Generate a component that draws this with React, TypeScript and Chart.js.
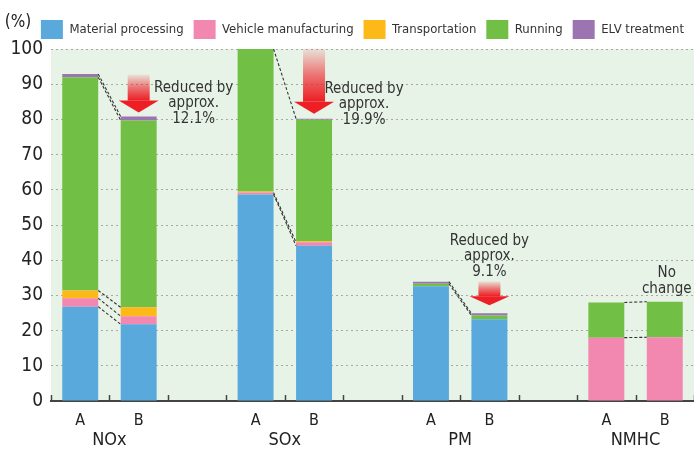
import React, { useEffect, useRef } from "react";
import { Chart, registerables } from "chart.js";

Chart.register(...registerables);

// ---------- data ----------
const slotLabels = ["A", "B", "", "A", "B", "", "A", "B", "", "A", "B"];
const groupLabels = ["NOx", "SOx", "PM", "NMHC"];
const groupSlots = [[0, 1], [3, 4], [6, 7], [9, 10]];
const seriesNames = ["Material processing", "Vehicle manufacturing", "Transportation", "Running", "ELV treatment"];

const materialProcessing = [26.8, 21.8, null, 58.7, 44.1, null, 32.6, 23.2, null, 0, 0];
const vehicleManufacturing = [2.4, 2.3, null, 0.5, 1.0, null, 0, 0, null, 18.0, 18.1];
const transportation = [2.2, 2.5, null, 0.3, 0.3, null, 0, 0, null, 0, 0];
const running = [60.6, 53.1, null, 40.5, 34.5, null, 0.7, 1.1, null, 10.0, 10.1];
const elvTreatment = [0.9, 1.1, null, 0, 0.3, null, 0.6, 0.6, null, 0, 0];

const yMin = 0;
const yMax = 100;
const yStep = 10;
const unitLabel = "(%)";

// connectors: pair of slots and which dataset stack-tops are joined
const connectorPairs = [[0, 1], [3, 4], [6, 7], [9, 10]];
const connectorSeries = [[0, 1, 2, 3, 4], [0, 1, 4], [3, 4], [1, 3]];

// notes
const noteSlots = [1, 4, 7, 10];
const noteTexts = [
  ["Reduced by", "approx.", "12.1%"],
  ["Reduced by", "approx.", "19.9%"],
  ["Reduced by", "approx.", "9.1%"],
  ["No", "change"],
];
const noteValues = [89, 88.7, 45.5, 36.2];
const arrowSlots = [1, 4, 7];

// ---------- styles ----------
const colors = ["#5aa9dd", "#f288b0", "#fcb918", "#72bf45", "#9c74b2"];
const NARROW = "'Liberation Sans Narrow', 'DejaVu Sans Condensed', sans-serif";
const COND = "'DejaVu Sans Condensed', 'Liberation Sans Narrow', sans-serif";
const noteDx = [55, 50, 0, 2];
const arrowGap = [4, 5, 8];
const arrowLen = [38, 65, 24];
const arrowHead = [12, 12, 9];

const bgPlugin = {
  id: "bgPlugin",
  beforeDraw(chart: any) {
    const { ctx, chartArea: a } = chart;
    ctx.save();
    ctx.fillStyle = "#e8f3e7";
    ctx.fillRect(a.left, a.top, a.right - a.left, a.bottom - a.top);
    ctx.restore();
  },
};

const overlayPlugin = {
  id: "overlayPlugin",
  afterDatasetsDraw(chart: any) {
    const { ctx } = chart;
    ctx.save();
    ctx.strokeStyle = "#333";
    ctx.lineWidth = 1.1;
    ctx.setLineDash([3, 2]);
    connectorPairs.forEach((pair, i) => {
      connectorSeries[i].forEach((ds) => {
        const meta = chart.getDatasetMeta(ds);
        const ea = meta.data[pair[0]];
        const eb = meta.data[pair[1]];
        if (!ea || !eb) return;
        ctx.beginPath();
        ctx.moveTo(ea.x + ea.width / 2, ea.y);
        ctx.lineTo(eb.x - eb.width / 2, eb.y);
        ctx.stroke();
      });
    });
    ctx.restore();
  },
  afterDraw(chart: any) {
    const { ctx, chartArea: a } = chart;
    const xs = chart.scales.x;
    const ys = chart.scales.y;
    ctx.save();
    // tick marks pointing up from axis
    const n = slotLabels.length;
    const step = (xs.right - xs.left) / n;
    ctx.strokeStyle = "#444";
    ctx.lineWidth = 1.5;
    for (let k = 0; k <= n; k++) {
      const x = Math.round(xs.left + k * step) + 0.5;
      ctx.beginPath();
      ctx.moveTo(x, a.bottom);
      ctx.lineTo(x, a.bottom - 6);
      ctx.stroke();
    }
    // group labels
    ctx.fillStyle = "#222";
    ctx.font = `18px ${COND}`;
    ctx.textAlign = "center";
    ctx.textBaseline = "middle";
    groupLabels.forEach((g, i) => {
      const x = (xs.getPixelForValue(groupSlots[i][0]) + xs.getPixelForValue(groupSlots[i][1])) / 2;
      ctx.fillText(g, x, a.bottom + 39);
    });
    // unit label
    ctx.font = `17px ${COND}`;
    ctx.fillText(unitLabel, 18, 23);
    // arrows
    const lastMeta = chart.getDatasetMeta(seriesNames.length - 1);
    arrowSlots.forEach((s, i) => {
      const el = lastMeta.data[s];
      const cx = el.x;
      const tip = el.y - arrowGap[i];
      const top = tip - arrowLen[i];
      const base = tip - arrowHead[i];
      const g = ctx.createLinearGradient(0, top, 0, base);
      g.addColorStop(0, "rgba(237,30,36,0.08)");
      g.addColorStop(0.5, "rgba(237,30,36,0.6)");
      g.addColorStop(1, "rgba(237,30,36,1)");
      ctx.fillStyle = g;
      ctx.fillRect(cx - 11, top, 22, base - top);
      ctx.fillStyle = "#ed1e24";
      ctx.beginPath();
      ctx.moveTo(cx - 20, base);
      ctx.lineTo(cx + 20, base);
      ctx.lineTo(cx, tip);
      ctx.closePath();
      ctx.fill();
    });
    // notes
    ctx.fillStyle = "#333";
    ctx.font = `15px ${NARROW}`;
    noteSlots.forEach((s, i) => {
      const x = xs.getPixelForValue(s) + noteDx[i];
      const y0 = ys.getPixelForValue(noteValues[i]);
      noteTexts[i].forEach((line, j) => {
        ctx.fillText(line, x, y0 + j * 15.5);
      });
    });
    ctx.restore();
  },
};

export default function App() {
  const ref = useRef<HTMLCanvasElement>(null);
  useEffect(() => {
    document.body.style.margin = "0";
    const series = [materialProcessing, vehicleManufacturing, transportation, running, elvTreatment];
    const chart = new Chart(ref.current as HTMLCanvasElement, {
      type: "bar",
      data: {
        labels: slotLabels,
        datasets: series.map((d, i) => ({
          label: seriesNames[i],
          data: d,
          backgroundColor: colors[i],
          borderWidth: 0,
          barPercentage: 0.615,
          categoryPercentage: 1,
        })),
      },
      options: {
        responsive: false,
        animation: false,
        layout: { padding: { top: 10, left: 0, right: 0, bottom: 0 } },
        plugins: {
          legend: {
            position: "top",
            align: "end",
            labels: {
              boxWidth: 22,
              boxHeight: 19,
              padding: 10,
              color: "#333",
              font: { family: NARROW, size: 13 },
            },
          },
          tooltip: { enabled: false },
        },
        scales: {
          x: {
            stacked: true,
            grid: { display: false, drawTicks: false },
            border: { display: true, color: "#444", width: 2 },
            ticks: { color: "#222", font: { family: COND, size: 16 }, padding: 10, autoSkip: false, maxRotation: 0 },
            afterFit: (s: any) => { s.height = 49; },
          },
          y: {
            stacked: true,
            min: yMin,
            max: yMax,
            ticks: { stepSize: yStep, color: "#222", font: { family: COND, size: 19 }, padding: 8 },
            grid: { color: "#a8a8a8", lineWidth: 1, drawTicks: false },
            border: { display: false, dash: [2, 3] },
            afterFit: (s: any) => { s.width = 51; },
          },
        },
      },
      plugins: [bgPlugin, overlayPlugin],
    } as any);
    return () => chart.destroy();
  }, []);
  return (
    <div style={{ width: 694, height: 450 }}>
      <canvas ref={ref} width={694} height={450} style={{ display: "block" }} />
    </div>
  );
}
